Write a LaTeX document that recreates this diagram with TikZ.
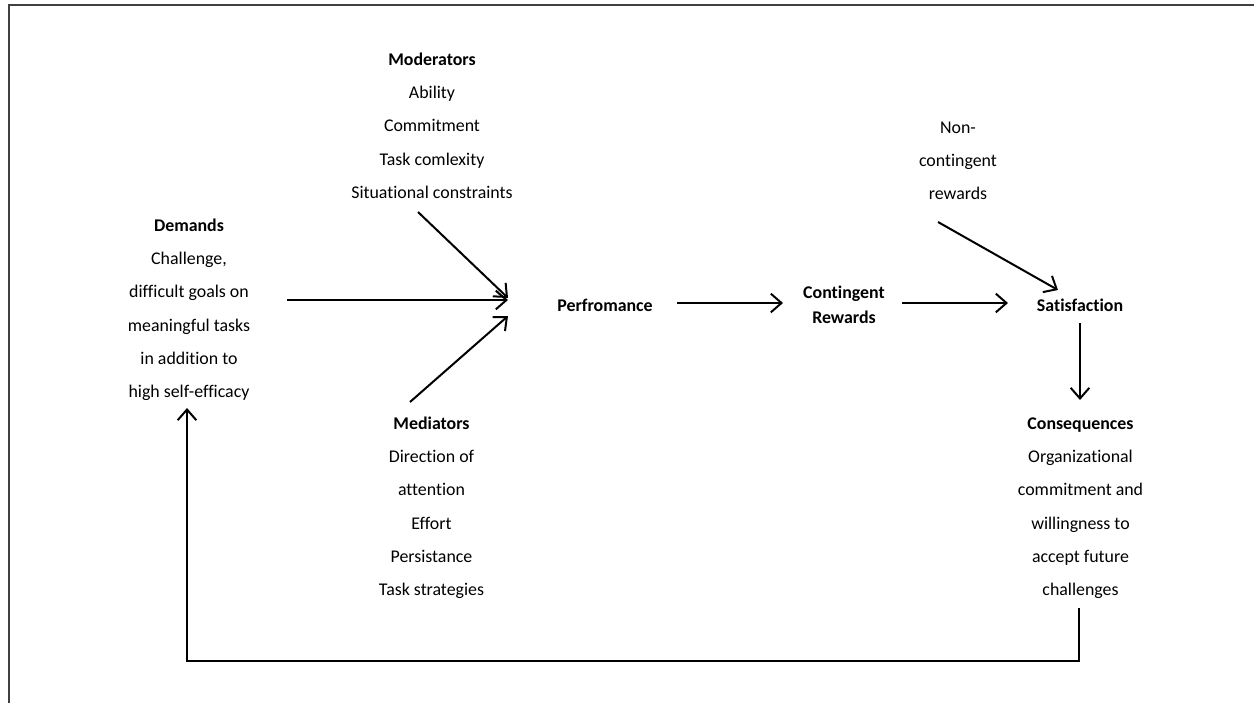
\documentclass[tikz,border=0pt]{standalone}
\usepackage{fontspec}
\setmainfont[Ligatures=NoCommon]{Carlito}
\usetikzlibrary{arrows.meta}
\begin{document}
\begin{tikzpicture}[x=0.75pt,y=-0.75pt,
  lbl/.style={anchor=base,inner sep=0pt,font=\fontsize{13.4}{25}\selectfont},
  lbltight/.style={anchor=base,inner sep=0pt,font=\fontsize{13.4}{18.75}\selectfont},
  conn/.style={line width=1.5pt,-{Straight Barb[length=8pt,width=14pt,line width=1.5pt]}},
  frameline/.style={line width=1.2pt,draw=black!75}]
\useasboundingbox (0,0) rectangle (1254,703);
\draw[frameline] (9,703) -- (9,5) -- (1254,5);

\node[lbl] (mod) at (432,65) {\begin{tabular}[t]{@{}c@{}}\textbf{Moderators}\\Ability\\Commitment\\Task comlexity\\Situational constraints\end{tabular}};
\node[lbl] (dem) at (189,231) {\begin{tabular}[t]{@{}c@{}}\textbf{Demands}\\Challenge,\\difficult goals on\\meaningful tasks\\in addition to\\high self-efficacy\end{tabular}};
\node[lbl] (med) at (431.5,429) {\begin{tabular}[t]{@{}c@{}}\textbf{Mediators}\\Direction of\\attention\\Effort\\Persistance\\Task strategies\end{tabular}};
\node[lbl] (cons) at (1080.5,429) {\begin{tabular}[t]{@{}c@{}}\textbf{Consequences}\\Organizational\\commitment and\\willingness to\\accept future\\challenges\end{tabular}};
\node[lbl] (nonc) at (958,133) {\begin{tabular}[t]{@{}c@{}}Non-\\contingent\\rewards\end{tabular}};
\node[lbl] (perf) at (605,311) {\textbf{Perfromance}};
\node[lbltight] (cont) at (844,298) {\begin{tabular}[t]{@{}c@{}}\textbf{Contingent}\\\textbf{Rewards}\end{tabular}};
\node[lbl] (sat) at (1080,311) {\textbf{Satisfaction}};

\coordinate (modS) at (418,212);
\coordinate (perfA) at (508,298);
\coordinate (demS) at (287,300);
\coordinate (perfB) at (508,300);
\coordinate (medS) at (410,402);
\coordinate (perfC) at (508,316);
\coordinate (perfE) at (677,303);
\coordinate (contW) at (783,303);
\coordinate (contE) at (902,303);
\coordinate (satW) at (1008,303);
\coordinate (noncS) at (938,222);
\coordinate (satN) at (1058,290);
\coordinate (satS) at (1080,323);
\coordinate (consN) at (1080,400);
\coordinate (consS) at (1079,608);
\coordinate (c1) at (1079,661);
\coordinate (c2) at (187,661);
\coordinate (demB) at (187,408);

\draw[conn] (modS) -- (perfA);
\draw[conn] (demS) -- (perfB);
\draw[conn] (medS) -- (perfC);
\draw[conn] (perfE) -- (contW);
\draw[conn] (contE) -- (satW);
\draw[conn] (noncS) -- (satN);
\draw[conn] (satS) -- (consN);
\draw[conn] (consS) -- (c1) -- (c2) -- (demB);
\end{tikzpicture}
\end{document}
